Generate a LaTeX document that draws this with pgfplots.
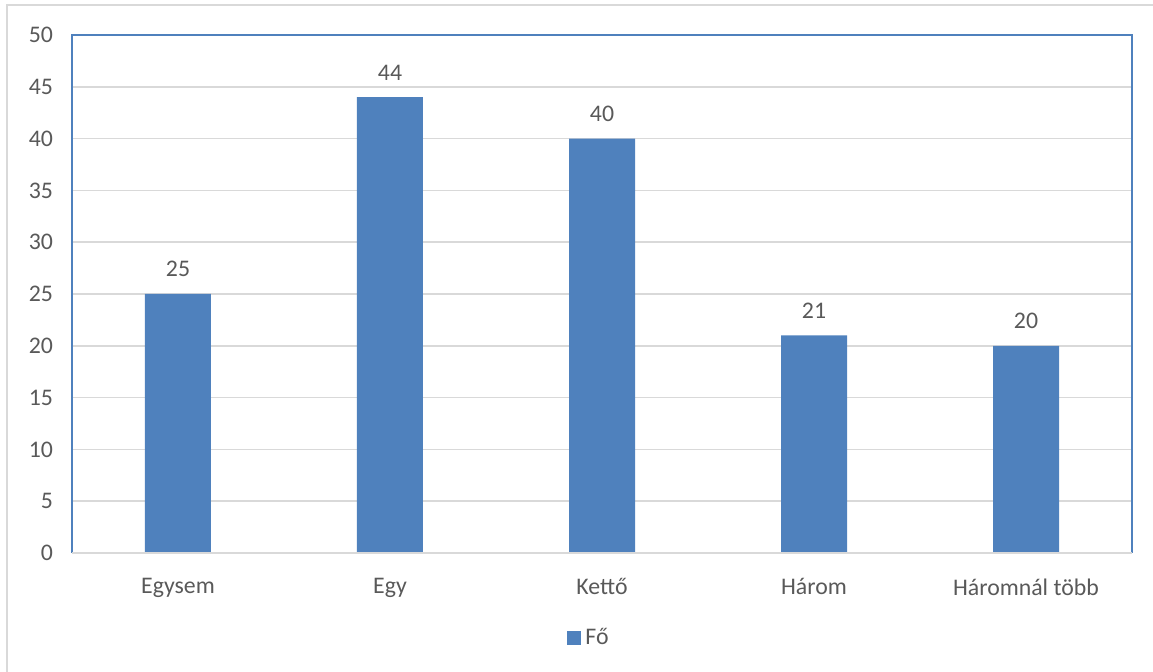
\documentclass[border=0pt]{standalone}
\usepackage{pgfplots}
\pgfplotsset{compat=1.18}
\usepackage{fontspec}
\setmainfont{Carlito}
\definecolor{barblue}{HTML}{4F81BD}
\definecolor{txt}{HTML}{595959}
\definecolor{gridc}{HTML}{D9D9D9}
\begin{document}
\begin{tikzpicture}[x=1pt,y=1pt]
\useasboundingbox (0,0) rectangle (576.5,336);
\draw[gridc, line width=0.8pt] (3.5,-5) -- (3.5,333.5) -- (580,333.5);
\begin{axis}[
  at={(36pt,59.5pt)}, anchor=south west,
  scale only axis, width=530pt, height=259pt,
  xmin=-0.5, xmax=4.5, ymin=0, ymax=50,
  ytick={0,5,...,50},
  xtick={0,1,2,3,4},
  xticklabels={Egysem, Egy, Kettő, Három, Háromnál több},
  ymajorgrids, grid style={gridc, line width=0.8pt},
  axis line style={barblue, line width=0.8pt},
  axis x line*=bottom,
  tick style={draw=none},
  ticklabel style={font=\fontsize{11.9}{13}\selectfont, text=txt},
  /pgf/number format/assume math mode=true,
  yticklabel style={xshift=-6pt},
  xticklabel style={yshift=-5pt},
  ybar, bar width=33pt,
  nodes near coords,
  every node near coord/.append style={font=\fontsize{11.9}{13}\selectfont, text=txt, yshift=5pt},
  legend style={at={(0.4887,-0.164)}, anchor=center, draw=none, font=\fontsize{11.9}{13}\selectfont, text=txt},
  legend image code/.code={\fill[barblue] (0pt,-3.5pt) rectangle (7pt,3.5pt);},
  clip=false,
]
\addplot[fill=barblue, draw=none] coordinates {(0,25) (1,44) (2,40) (3,21) (4,20)};
\addlegendentry{Fő}
\end{axis}
\draw[barblue, line width=0.8pt] (36,59.5) -- (36,318.5) -- (566,318.5) -- (566,59.5);
\draw[gridc, line width=0.8pt] (36,59.5) -- (566,59.5);
\end{tikzpicture}
\end{document}
